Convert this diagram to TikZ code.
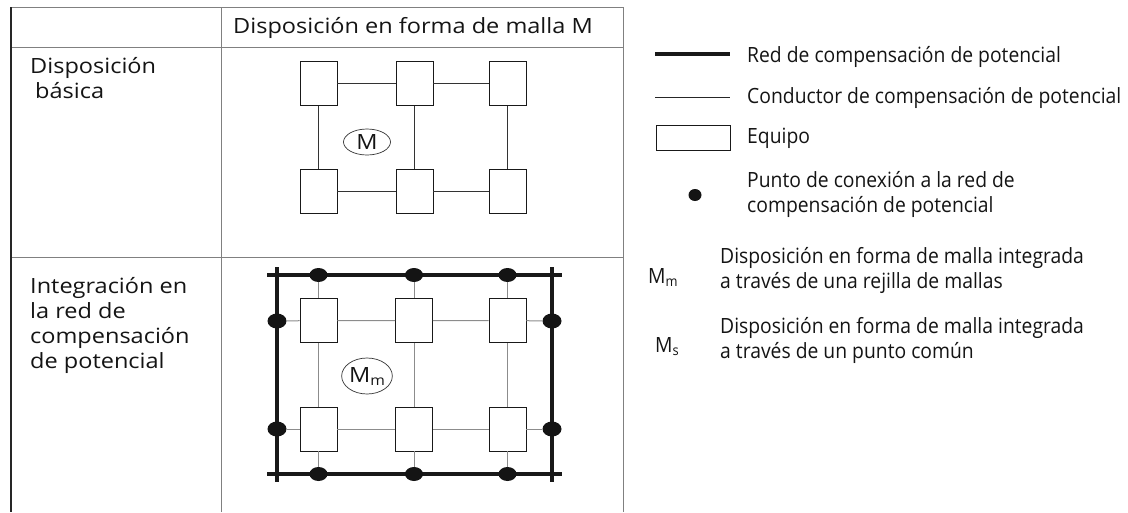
\documentclass[tikz,border=0pt]{standalone}
\usepackage{fontspec}
\setmainfont{Open Sans}
\newfontfamily\tabfont[FakeStretch=1.12]{Open Sans}
\newfontfamily\legfont[FakeStretch=0.92]{Open Sans}
\usetikzlibrary{shapes.geometric}
\newcommand\mylines[1]{\begin{tabular}[t]{@{}l@{}}#1\end{tabular}}
\newcommand\mysub[1]{\raisebox{-3pt}{\fontsize{14}{14}\selectfont #1}}
\begin{document}
\begin{tikzpicture}[x=1pt,y=-1pt,
  txt/.style={inner sep=0pt, anchor=base west, font=\tabfont\fontsize{21}{25}\selectfont, text=black!92},
  legtxt/.style={inner sep=0pt, anchor=base west, font=\legfont\fontsize{21}{25}\selectfont, text=black!92},
  equip/.style={draw=black!90, line width=0.9pt, fill=white, minimum width=37pt, minimum height=44pt, inner sep=0pt},
  dot/.style={ellipse, fill=black!92, minimum width=18pt, minimum height=14pt, inner sep=0pt},
  thinline/.style={line width=0.9pt, draw=black!80},
  grayline/.style={line width=1pt, draw=black!45},
  net/.style={line width=4pt, draw=black!90},
  tline/.style={line width=0.8pt, draw=black!50},
  mesh/.style={ellipse, draw=black!80, line width=0.7pt, inner sep=0pt, font=\tabfont\fontsize{21}{25}\selectfont, text=black!92}
]
\useasboundingbox (0,0) rectangle (1128,512);
% table
\draw[tline] (11,7) -- (623,7);
\draw[tline] (11,47) -- (623,47);
\draw[tline] (11,257) -- (623,257);
\draw[tline] (221,7) -- (221,512);
\draw[tline] (623,7) -- (623,512);
\draw[line width=1.4pt, draw=black!85] (11,7) -- (11,512);
% header and row labels
\node[txt, anchor=base] (head) at (413,33) {Disposición en forma de malla M};
\node[txt] (row1) at (30,73) {\mylines{Disposición\\\hspace{5pt}básica}};
\node[txt] (row2) at (30,293) {\mylines{Integración en\\la red de\\compensación\\de potencial}};
% basic arrangement
\node[equip] (a1) at (318.5,83.5) {};
\node[equip] (a2) at (414.5,83.5) {};
\node[equip] (a3) at (507.5,83.5) {};
\node[equip] (a4) at (318.5,191) {};
\node[equip] (a5) at (414.5,191) {};
\node[equip] (a6) at (507.5,191) {};
\draw[thinline] (a1) -- (a2);
\draw[thinline] (a2) -- (a3);
\draw[thinline] (a4) -- (a5);
\draw[thinline] (a5) -- (a6);
\draw[thinline] (a1) -- (a4);
\draw[thinline] (a2) -- (a5);
\draw[thinline] (a3) -- (a6);
\node[mesh, minimum width=47pt, minimum height=26pt] (m1) at (367,142) {M};
% integration in the network
\coordinate (nTL) at (277,275);
\coordinate (nTR) at (552,275);
\coordinate (nBL) at (277,474);
\coordinate (nBR) at (552,474);
\draw[net, shorten <=-10pt, shorten >=-10pt] (nTL) -- (nTR);
\draw[net, shorten <=-10pt, shorten >=-10pt] (nBL) -- (nBR);
\draw[net, shorten <=-8pt, shorten >=-8pt] (nTL) -- (nBL);
\draw[net, shorten <=-8pt, shorten >=-8pt] (nTR) -- (nBR);
\node[dot] (t1) at (318.5,275) {};
\node[dot] (t2) at (414,275) {};
\node[dot] (t3) at (507.5,275) {};
\node[dot] (u1) at (318.5,474) {};
\node[dot] (u2) at (414,474) {};
\node[dot] (u3) at (507.5,474) {};
\node[dot, minimum width=19pt, minimum height=15pt] (l1) at (277,321) {};
\node[dot, minimum width=19pt, minimum height=15pt] (l2) at (277,429) {};
\node[dot, minimum width=19pt, minimum height=15pt] (r1) at (552,321) {};
\node[dot, minimum width=19pt, minimum height=15pt] (r2) at (552,429) {};
\node[equip] (b1) at (318.5,320.5) {};
\node[equip] (b2) at (414,320.5) {};
\node[equip] (b3) at (507.5,320.5) {};
\node[equip] (b4) at (318.5,429) {};
\node[equip] (b5) at (414,429) {};
\node[equip] (b6) at (507.5,429) {};
\draw[grayline] (l1) -- (b1) -- (b2) -- (b3) -- (r1);
\draw[grayline] (l2) -- (b4) -- (b5) -- (b6) -- (r2);
\draw[grayline] (t1) -- (b1) -- (b4) -- (u1);
\draw[grayline] (t2) -- (b2) -- (b5) -- (u2);
\draw[grayline] (t3) -- (b3) -- (b6) -- (u3);
\node[mesh, minimum width=49pt, minimum height=36pt] (m2) at (367,376) {M\mysub{m}};
% legend
\coordinate (k1a) at (655,54);
\coordinate (k1b) at (730,54);
\draw[net, line width=4.5pt] (k1a) -- (k1b);
\node[legtxt] (k1) at (747,62) {Red de compensación de potencial};
\coordinate (k2a) at (655,97);
\coordinate (k2b) at (730,97);
\draw[line width=1pt, draw=black!85] (k2a) -- (k2b);
\node[legtxt] (k2) at (747,103) {Conductor de compensación de potencial};
\node[draw=black!90, line width=0.9pt, minimum width=74pt, minimum height=25pt, inner sep=0pt] (k3box) at (693,137.5) {};
\node[legtxt] (k3) at (747,143) {Equipo};
\node[dot, minimum width=13pt, minimum height=12pt] (k4dot) at (695,195) {};
\node[legtxt] (k4) at (747,187) {\mylines{Punto de conexión a la red de\\compensación de potencial}};
\node[legtxt] (k5s) at (648,283) {M\mysub{m}};
\node[legtxt] (k5) at (720,263) {\mylines{Disposición en forma de malla integrada\\a través de una rejilla de mallas}};
\node[legtxt] (k6s) at (655,352) {M\mysub{s}};
\node[legtxt] (k6) at (720,333) {\mylines{Disposición en forma de malla integrada\\a través de un punto común}};
\end{tikzpicture}
\end{document}
